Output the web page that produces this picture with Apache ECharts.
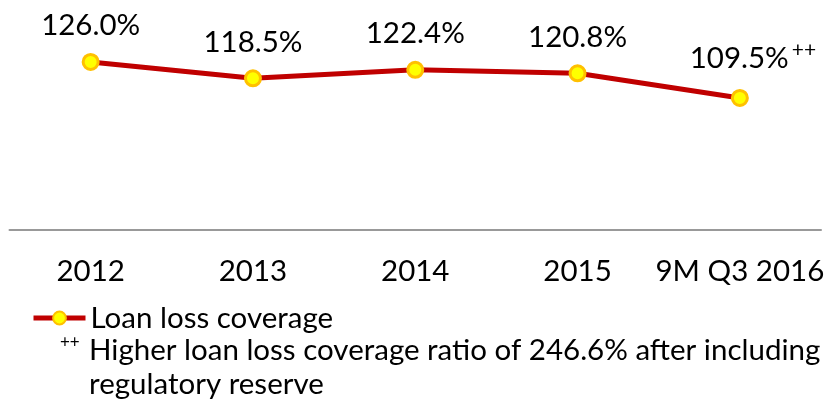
<!DOCTYPE html>
<html><head><meta charset="utf-8">
<script src="https://cdn.jsdelivr.net/npm/echarts@6/dist/echarts.min.js"></script>
<style>html,body{margin:0;padding:0;background:#fff}#c{width:827px;height:403px}</style>
</head><body><div id="c"></div>
<script>
var categories = ['2012', '2013', '2014', '2015', '9M Q3 2016'];
var coverage = [126.0, 118.5, 122.4, 120.8, 109.5];
var seriesName = 'Loan loss coverage';
var footnote = ['Higher loan loss coverage ratio of 246.6% after including', 'regulatory reserve'];

var FONT = 'Lato';
var FS = 29.5;
var chart = echarts.init(document.getElementById('c'));
var lastIdx = coverage.length - 1;
chart.setOption({
  animation: false,
  textStyle: {fontFamily: FONT},
  grid: {left: 9.5, right: 3.5, top: 31.4, bottom: 173},
  xAxis: {
    type: 'category', data: categories, boundaryGap: true,
    axisLine: {lineStyle: {color: '#999', width: 2}},
    axisTick: {show: false},
    axisLabel: {color: '#000', fontSize: FS, fontFamily: FONT, margin: 26, interval: 0}
  },
  yAxis: {type: 'value', min: 49, max: 140, show: false, splitLine: {show: false}},
  legend: {
    left: 26, top: 298, itemWidth: 52, itemHeight: 16, itemGap: 0,
    lineStyle: {width: 5},
    textStyle: {fontSize: FS, color: '#000', fontFamily: FONT},
    data: [seriesName]
  },
  series: [{
    name: seriesName, type: 'line',
    data: coverage.map(function (v, i) {
      return i === lastIdx ? {value: v, label: {offset: [13, 0]}} : v;
    }),
    lineStyle: {color: '#C00000', width: 5},
    symbol: 'circle', symbolSize: 15,
    itemStyle: {color: '#FFFF00', borderColor: '#FFC000', borderWidth: 3},
    label: {
      show: true, position: 'top', distance: 12, color: '#000', fontSize: FS, fontFamily: FONT,
      formatter: function (p) {
        var s = p.value.toFixed(1) + '%';
        return p.dataIndex === lastIdx ? '{v|' + s + '}{s|++}' : s;
      },
      rich: {
        v: {fontSize: FS, fontFamily: FONT, color: '#000'},
        s: {fontSize: 21, fontFamily: FONT, color: '#000', verticalAlign: 'top', padding: [0, 0, 16, 3]}
      }
    }
  }],
  graphic: [
    {type: 'text', left: 60, top: 334, style: {text: '++', fontSize: 17, fontFamily: FONT, fill: '#000'}},
    {type: 'text', left: 89, top: 335, style: {text: footnote[0], fontSize: FS, fontFamily: FONT, fill: '#000'}},
    {type: 'text', left: 89, top: 369, style: {text: footnote[1], fontSize: FS, fontFamily: FONT, fill: '#000'}}
  ]
});
</script>
</body></html>
